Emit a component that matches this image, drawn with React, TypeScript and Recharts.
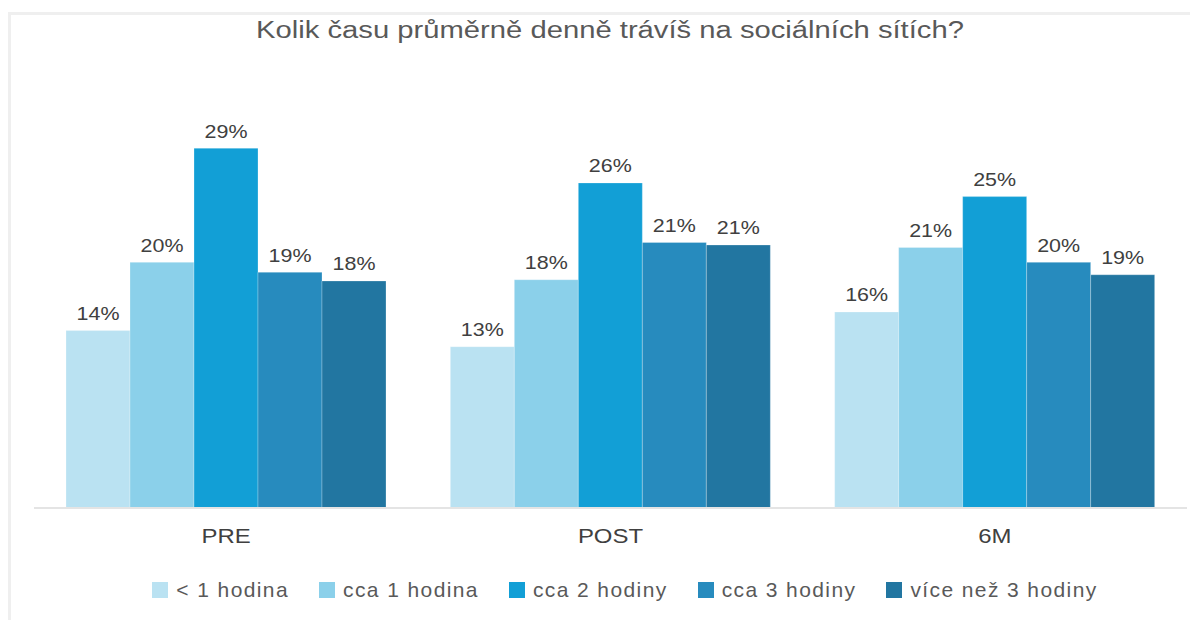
import React from 'react';
import { BarChart, Bar, XAxis, YAxis, Legend, LabelList } from 'recharts';

const categories = ['PRE', 'POST', '6M'];
const seriesNames = ['< 1 hodina', 'cca 1 hodina', 'cca 2 hodiny', 'cca 3 hodiny', 'více než 3 hodiny'];
const lessThan1 = [14.3, 13.0, 15.8];
const about1 = [19.8, 18.4, 21.0];
const about2 = [29.0, 26.2, 25.1];
const about3 = [19.0, 21.4, 19.8];
const moreThan3 = [18.3, 21.2, 18.8];
const colors = ['#BAE2F2', '#8BD0EA', '#129FD6', '#278BBE', '#2276A1'];

const seriesValues = [lessThan1, about1, about2, about3, moreThan3];
const data = categories.map((c, i) => {
  const row: Record<string, string | number> = { name: c };
  seriesNames.forEach((s, j) => {
    row['s' + j] = seriesValues[j][i];
  });
  return row;
});

const FONT = '"Liberation Sans", Arial, sans-serif';

const LegendContent = () => (
  <div style={{ display: 'flex', justifyContent: 'center', fontFamily: FONT, fontSize: 21, letterSpacing: 1.4, color: '#595959' }}>
    {seriesNames.map((s, j) => (
      <div key={s} style={{ display: 'flex', alignItems: 'center', marginRight: j < seriesNames.length - 1 ? 30 : 0 }}>
        <span style={{ display: 'inline-block', width: 16, height: 16, background: colors[j], marginRight: 8 }} />
        <span>{s}</span>
      </div>
    ))}
  </div>
);

const stretch = (cx: number, cy: number, sx: number) =>
  `translate(${cx} ${cy}) scale(${sx} 1) translate(${-cx} ${-cy})`;

const TickLabel = (props: any) => {
  const { x, y, payload } = props;
  const by = y + 15;
  return (
    <text x={x} y={by} textAnchor="middle" fill="#404040" fontSize={21} fontFamily={FONT} transform={stretch(x, by, 1.14)}>
      {payload.value}
    </text>
  );
};

const BarLabel = (props: any) => {
  const { x, y, width, value } = props;
  const cx = Number(x) + Number(width) / 2;
  const by = Number(y) - 10.5;
  return (
    <text x={cx} y={by} textAnchor="middle" fill="#404040" fontSize={19} fontFamily={FONT} transform={stretch(cx, by, 1.13)}>
      {Math.round(Number(value)) + '%'}
    </text>
  );
};

export default function App() {
  return (
    <div style={{ position: 'relative', width: 1190, height: 612, background: '#fff', fontFamily: FONT }}>
      <div style={{ position: 'absolute', left: 0, top: 4, width: 1190, height: 3, background: '#efefef' }} />
      <div style={{ position: 'absolute', left: 0, top: 4, width: 3, height: 608, background: '#efefef' }} />
      <div
        style={{
          position: 'absolute',
          left: 0,
          top: 9,
          width: 1204,
          textAlign: 'center',
          fontSize: 23,
          color: '#595959',
          fontFamily: FONT,
          transform: 'scaleX(1.27)',
          transformOrigin: '602px 0',
        }}
      >
        Kolik času průměrně denně trávíš na sociálních sítích?
      </div>
      <BarChart
        width={1190}
        height={612}
        data={data}
        margin={{ top: 103, right: 11, bottom: 72, left: 26 }}
        barCategoryGap={32}
        barGap={0}
      >
        <XAxis
          dataKey="name"
          axisLine={{ stroke: '#e4e4e4', strokeWidth: 2 }}
          tickLine={false}
          height={40}
          tickSize={6}
          tickMargin={14}
          tick={<TickLabel />}
        />
        <YAxis hide domain={[0, 32]} />
        {seriesNames.map((s, j) => (
          <Bar key={s} dataKey={'s' + j} name={s} fill={colors[j]} stroke="rgba(255,255,255,0.25)" strokeWidth={1} isAnimationActive={false}>
            <LabelList dataKey={'s' + j} content={<BarLabel />} />
          </Bar>
        ))}
        <Legend
          layout="horizontal"
          verticalAlign="middle"
          align="center"
          content={<LegendContent />}
          wrapperStyle={{ top: 570, left: 44, width: 1146 }}
        />
      </BarChart>
    </div>
  );
}
